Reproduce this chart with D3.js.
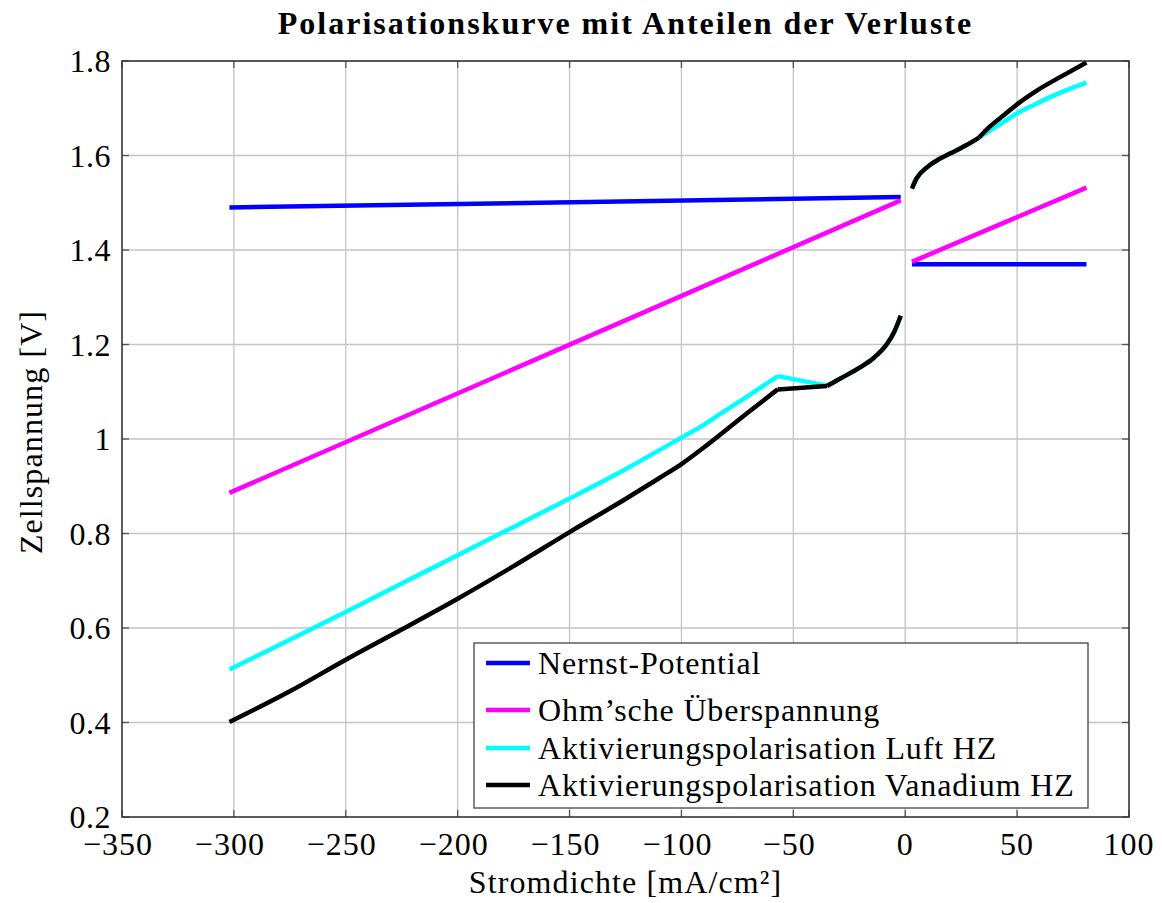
<!DOCTYPE html>
<html><head><meta charset="utf-8">
<script src="https://cdn.jsdelivr.net/npm/d3@7"></script>
<style>
body{margin:0;background:#fff;}
</style></head>
<body><svg id="c" width="1162" height="903" font-family="'Liberation Serif', 'Times New Roman', serif"></svg>
<script>
// ---- data ----
const title = "Polarisationskurve mit Anteilen der Verluste";
const xLabel = "Stromdichte [mA/cm²]";
const yLabel = "Zellspannung [V]";
const xTicks = [-350,-300,-250,-200,-150,-100,-50,0,50,100];
const yTicks = [0.2,0.4,0.6,0.8,1.0,1.2,1.4,1.6,1.8];
const seriesNames = ["Nernst-Potential","Ohm’sche Überspannung","Aktivierungspolarisation Luft HZ","Aktivierungspolarisation Vanadium HZ"];
const seriesColors = ["#0000ff","#ff00ff","#00ffff","#000000"];

// Nernst-Potential (two branches)
const nernstLeftX = [-302,-2];
const nernstLeftY = [1.490,1.512];
const nernstRightX = [3,81];
const nernstRightY = [1.370,1.370];
// Ohm'sche Überspannung
const ohmLeftX = [-302,-2];
const ohmLeftY = [0.886,1.505];
const ohmRightX = [3,81];
const ohmRightY = [1.375,1.532];
// Aktivierungspolarisation Luft HZ
const luftLeftX = [-302,-275,-250,-225,-200,-175,-150,-125,-110,-100,-90,-83,-70,-57,-35,-29,-20,-14,-8,-5,-2];
const luftLeftY = [0.512,0.575,0.634,0.694,0.754,0.814,0.874,0.936,0.976,1.003,1.030,1.052,1.092,1.133,1.113,1.128,1.152,1.172,1.202,1.226,1.261];
const luftRightX = [3,5,10,15,20,27,33,42,50,58,65,73,81];
const luftRightY = [1.530,1.551,1.576,1.592,1.604,1.621,1.638,1.665,1.689,1.708,1.724,1.740,1.754];
// Aktivierungspolarisation Vanadium HZ
const vanLeftX = [-302,-275,-250,-225,-200,-175,-150,-125,-110,-100,-90,-83,-70,-57,-35,-29,-20,-14,-8,-5,-2];
const vanLeftY = [0.401,0.466,0.533,0.597,0.662,0.731,0.803,0.873,0.917,0.947,0.982,1.008,1.057,1.105,1.112,1.128,1.152,1.172,1.202,1.226,1.261];
const vanRightX = [3,5,10,15,20,27,33,38,44,51,59,70,81];
const vanRightY = [1.530,1.551,1.576,1.592,1.604,1.621,1.638,1.662,1.685,1.712,1.738,1.768,1.797];
// x positions where curves have sharp corners
const kinks = [-57,-35,33];

// ---- layout ----
const svg = d3.select("#c");
const L=122, R=1129, T=61, B=817;
const x = d3.scaleLinear().domain([-350,100]).range([L,R]);
const y = d3.scaleLinear().domain([0.2,1.8]).range([B,T]);

// grid
const g = svg.append("g");
g.selectAll(".gx").data(xTicks).join("line")
 .attr("x1",d=>x(d)).attr("x2",d=>x(d)).attr("y1",T).attr("y2",B)
 .attr("stroke","#c4c4c4").attr("stroke-width",1.3);
g.selectAll(".gy").data(yTicks).join("line")
 .attr("y1",d=>y(d)).attr("y2",d=>y(d)).attr("x1",L).attr("x2",R)
 .attr("stroke","#c4c4c4").attr("stroke-width",1.3);

// inner ticks on all sides
const tl=7;
xTicks.forEach(t=>{
  g.append("line").attr("x1",x(t)).attr("x2",x(t)).attr("y1",B).attr("y2",B-tl).attr("stroke","#555").attr("stroke-width",1.3);
  g.append("line").attr("x1",x(t)).attr("x2",x(t)).attr("y1",T).attr("y2",T+tl).attr("stroke","#555").attr("stroke-width",1.3);
});
yTicks.forEach(t=>{
  g.append("line").attr("y1",y(t)).attr("y2",y(t)).attr("x1",L).attr("x2",L+tl).attr("stroke","#555").attr("stroke-width",1.3);
  g.append("line").attr("y1",y(t)).attr("y2",y(t)).attr("x1",R).attr("x2",R-tl).attr("stroke","#555").attr("stroke-width",1.3);
});

// series
const line = d3.line().x(d=>x(d[0])).y(d=>y(d[1])).curve(d3.curveMonotoneX);
const zip=(a,b)=>a.map((v,i)=>[v,b[i]]);
// split a point list at kink x values (kink point shared by both pieces)
function splitAtKinks(pts){
  const out=[]; let cur=[];
  pts.forEach((p,i)=>{
    cur.push(p);
    if(kinks.includes(p[0]) && i>0 && i<pts.length-1){ out.push(cur); cur=[p]; }
  });
  out.push(cur); return out;
}
const series = [
  [zip(nernstLeftX,nernstLeftY), zip(nernstRightX,nernstRightY)],
  [zip(ohmLeftX,ohmLeftY), zip(ohmRightX,ohmRightY)],
  [zip(luftLeftX,luftLeftY), zip(luftRightX,luftRightY)],
  [zip(vanLeftX,vanLeftY), zip(vanRightX,vanRightY)]
];
series.forEach((segs,i)=>{
  segs.forEach(s=>{
    const d = splitAtKinks(s).map(p=>line(p)).join("");
    svg.append("path").attr("d",d).attr("fill","none")
      .attr("stroke",seriesColors[i]).attr("stroke-width",4.5)
      .attr("stroke-linejoin","round");
  });
});

// frame
svg.append("rect").attr("x",L).attr("y",T).attr("width",R-L).attr("height",B-T)
 .attr("fill","none").attr("stroke","#333").attr("stroke-width",1.5);

// tick labels
const fmtX = d=> d<0 ? "\u2212"+Math.abs(d) : String(d);
const fmtY = d=> (Math.round(d*10)/10===1) ? "1" : d.toFixed(1);
svg.selectAll(".xl").data(xTicks).join("text")
 .attr("x",d=>x(d)+(d<0?-4:0)).attr("y",B+38).attr("text-anchor","middle")
 .attr("font-size",32).attr("letter-spacing",1).text(fmtX);
svg.selectAll(".yl").data(yTicks).join("text")
 .attr("x",L-11).attr("y",d=>y(d)+11).attr("text-anchor","end")
 .attr("font-size",32).attr("letter-spacing",0.5).text(fmtY);

// titles
svg.append("text").attr("x",(L+R)/2).attr("y",34).attr("text-anchor","middle")
 .attr("font-size",32).attr("font-weight","bold").attr("letter-spacing",2).text(title);
svg.append("text").attr("x",(L+R)/2).attr("y",893).attr("text-anchor","middle")
 .attr("font-size",32).attr("letter-spacing",1.1).text(xLabel);
svg.append("text").attr("transform",`translate(42,${(T+B)/2-7}) rotate(-90)`).attr("text-anchor","middle")
 .attr("font-size",32).attr("letter-spacing",1.1).text(yLabel);

// legend
const lg = svg.append("g");
lg.append("rect").attr("x",474).attr("y",643).attr("width",614).attr("height",165)
 .attr("fill","#fff").attr("stroke","#444").attr("stroke-width",1.3);
const legY=[663,710,748,785];
seriesNames.forEach((n,i)=>{
  lg.append("line").attr("x1",486).attr("x2",530).attr("y1",legY[i]).attr("y2",legY[i])
    .attr("stroke",seriesColors[i]).attr("stroke-width",4.5);
  lg.append("text").attr("x",538).attr("y",legY[i]+11).attr("font-size",32)
    .attr("letter-spacing",0.85).text(n);
});
</script></body></html>
